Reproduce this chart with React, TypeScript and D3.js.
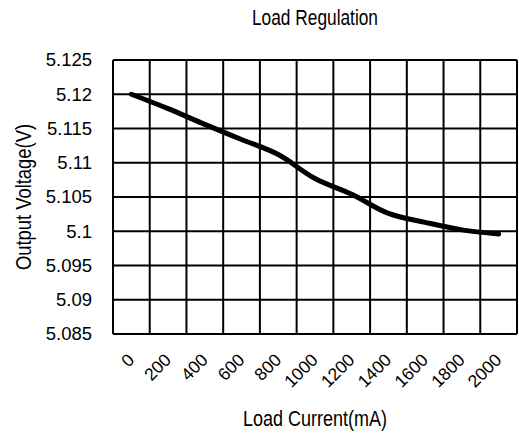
import React, { useEffect, useRef } from 'react';
import * as d3 from 'd3';

// load current (mA) categories and measured output voltage
const currents = ['0', '200', '400', '600', '800', '1000', '1200', '1400', '1600', '1800', '2000'];
const voltages = [5.12, 5.1179, 5.1156, 5.1134, 5.1112, 5.1077, 5.1054, 5.1026, 5.1013, 5.1002, 5.0996];
const yTicks = [5.085, 5.09, 5.095, 5.1, 5.105, 5.11, 5.115, 5.12, 5.125];

const tickFont = '"Liberation Sans", Arial, sans-serif';
const titleFont = '"Liberation Sans Narrow", "Liberation Sans", Arial, sans-serif';

const App = () => {
  const svgRef = useRef<SVGSVGElement>(null);

  useEffect(() => {
    const width = 519;
    const height = 435;
    const margin = { left: 113, right: 2, top: 60, bottom: 101 };

    const svg = d3.select(svgRef.current);
    svg.selectAll('*').remove();
    svg.attr('width', width).attr('height', height);

    svg.append('rect').attr('width', width).attr('height', height).attr('fill', '#fff');

    const x = d3.scaleBand()
      .domain(currents)
      .range([margin.left, width - margin.right])
      .padding(0);

    const y = d3.scaleLinear()
      .domain([5.085, 5.125])
      .range([height - margin.bottom, margin.top]);

    const grid = svg.append('g').attr('stroke', '#000').attr('stroke-width', 2);

    // horizontal grid lines
    grid.selectAll('line.h')
      .data(yTicks)
      .enter()
      .append('line')
      .attr('x1', margin.left)
      .attr('x2', width - margin.right)
      .attr('y1', d => y(d))
      .attr('y2', d => y(d));

    // vertical grid lines at category boundaries
    const bounds = currents.map(c => x(c)!).concat([x.range()[1]]);
    grid.selectAll('line.v')
      .data(bounds)
      .enter()
      .append('line')
      .attr('x1', d => d)
      .attr('x2', d => d)
      .attr('y1', y(5.125))
      .attr('y2', y(5.085));

    // y tick labels
    svg.append('g')
      .selectAll('text')
      .data(yTicks)
      .enter()
      .append('text')
      .attr('x', 92)
      .attr('y', d => y(d))
      .attr('dy', '0.35em')
      .attr('text-anchor', 'end')
      .attr('font-family', tickFont)
      .attr('font-size', 18.5)
      .attr('fill', '#000')
      .text(d => String(d));

    // x tick labels, rotated
    svg.append('g')
      .selectAll('text')
      .data(currents)
      .enter()
      .append('text')
      .attr('transform', d => `translate(${x(d)! + x.bandwidth() / 2 + 4}, ${y(5.085) + 27}) rotate(-45)`)
      .attr('text-anchor', 'end')
      .attr('font-family', tickFont)
      .attr('font-size', 17.5)
      .attr('fill', '#000')
      .text(d => d);

    // the curve
    const line = d3.line<number>()
      .x((d, i) => x(currents[i])! + x.bandwidth() / 2)
      .y(d => y(d))
      .curve(d3.curveCatmullRom.alpha(0.5));

    svg.append('path')
      .datum(voltages)
      .attr('d', line)
      .attr('fill', 'none')
      .attr('stroke', '#000')
      .attr('stroke-width', 5)
      .attr('stroke-linecap', 'round')
      .attr('stroke-linejoin', 'round');

    // titles
    svg.append('text')
      .attr('x', 315)
      .attr('y', 25)
      .attr('text-anchor', 'middle')
      .attr('font-family', titleFont)
      .attr('font-size', 22)
      .attr('textLength', 126)
      .attr('lengthAdjust', 'spacingAndGlyphs')
      .text('Load Regulation');

    svg.append('text')
      .attr('x', 315)
      .attr('y', 426)
      .attr('text-anchor', 'middle')
      .attr('font-family', titleFont)
      .attr('font-size', 22)
      .attr('textLength', 144)
      .attr('lengthAdjust', 'spacingAndGlyphs')
      .text('Load Current(mA)');

    svg.append('text')
      .attr('transform', `translate(31, ${(y(5.085) + y(5.125)) / 2}) rotate(-90)`)
      .attr('text-anchor', 'middle')
      .attr('font-family', titleFont)
      .attr('font-size', 22)
      .attr('textLength', 146)
      .attr('lengthAdjust', 'spacingAndGlyphs')
      .text('Output Voltage(V)');
  }, []);

  return (
    <svg ref={svgRef} style={{ position: 'absolute', left: 0, top: 0 }}></svg>
  );
};

export default App;
